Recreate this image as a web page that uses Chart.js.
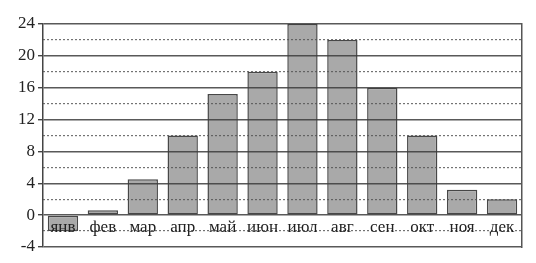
<!DOCTYPE html>
<html>
<head>
<meta charset="utf-8">
<script src="https://cdn.jsdelivr.net/npm/chart.js@4"></script>
<style>
  html, body { margin: 0; padding: 0; background: #fff; }
  #wrap { width: 536px; height: 263px; }
</style>
</head>
<body>
<div id="wrap"><canvas id="chart"></canvas></div>
<script>
// months and monthly values
const months = ['янв', 'фев', 'мар', 'апр', 'май', 'июн', 'июл', 'авг', 'сен', 'окт', 'ноя', 'дек'];
const values = [-2, 0.6, 4.5, 10, 15.2, 18, 24, 22, 16, 10, 3.2, 2];
const majorTicks = [-4, 0, 4, 8, 12, 16, 20, 24];
const minorTicks = [-2, 2, 6, 10, 14, 18, 22];

const serif = '"Liberation Serif", "DejaVu Serif", serif';

const ctx = document.getElementById('chart').getContext('2d');
new Chart(ctx, {
  type: 'bar',
  data: {
    labels: months,
    datasets: [{
      data: values,
      backgroundColor: '#a9a9a9',
      borderColor: '#474747',
      borderWidth: 1.5,
      borderSkipped: false,
      barPercentage: 0.76,
      categoryPercentage: 1
    }]
  },
  options: {
    responsive: true,
    maintainAspectRatio: false,
    animation: false,
    layout: { padding: { top: 24, right: 14, bottom: 16, left: 0 } },
    plugins: { legend: { display: false }, tooltip: { enabled: false } },
    scales: {
      x: {
        position: { y: 0 },
        grid: { display: false, drawTicks: false },
        border: { display: false },
        ticks: { z: 2, color: '#222', padding: 2, font: { family: serif, size: 17 }, maxRotation: 0 }
      },
      y: {
        min: -4,
        max: 24,
        afterBuildTicks: axis => { axis.ticks = majorTicks.map(v => ({ value: v })); },
        afterFit: axis => { axis.width = 43; },
        grid: { z: 1, color: 'rgba(60,60,60,0.85)', lineWidth: 1.4, tickLength: 5, tickColor: '#444' },
        border: { z: 1, display: true, color: '#444', width: 1.5 },
        ticks: { color: '#222', padding: 3, font: { family: serif, size: 17 } }
      },
      y2: {
        position: 'right',
        min: -4,
        max: 24,
        afterBuildTicks: axis => { axis.ticks = minorTicks.map(v => ({ value: v })); },
        afterFit: axis => { axis.width = 0; },
        grid: { z: 1, color: 'rgba(80,80,80,0.8)', lineWidth: 1.2, drawTicks: false },
        border: { display: false, dash: [2, 2] },
        ticks: { display: false }
      },
      yRight: {
        position: 'right',
        min: -4,
        max: 24,
        afterFit: axis => { axis.width = 0; },
        grid: { display: false, drawTicks: false },
        border: { z: 1, display: true, color: '#555', width: 1.5 },
        ticks: { display: false }
      }
    }
  }
});
</script>
</body>
</html>
